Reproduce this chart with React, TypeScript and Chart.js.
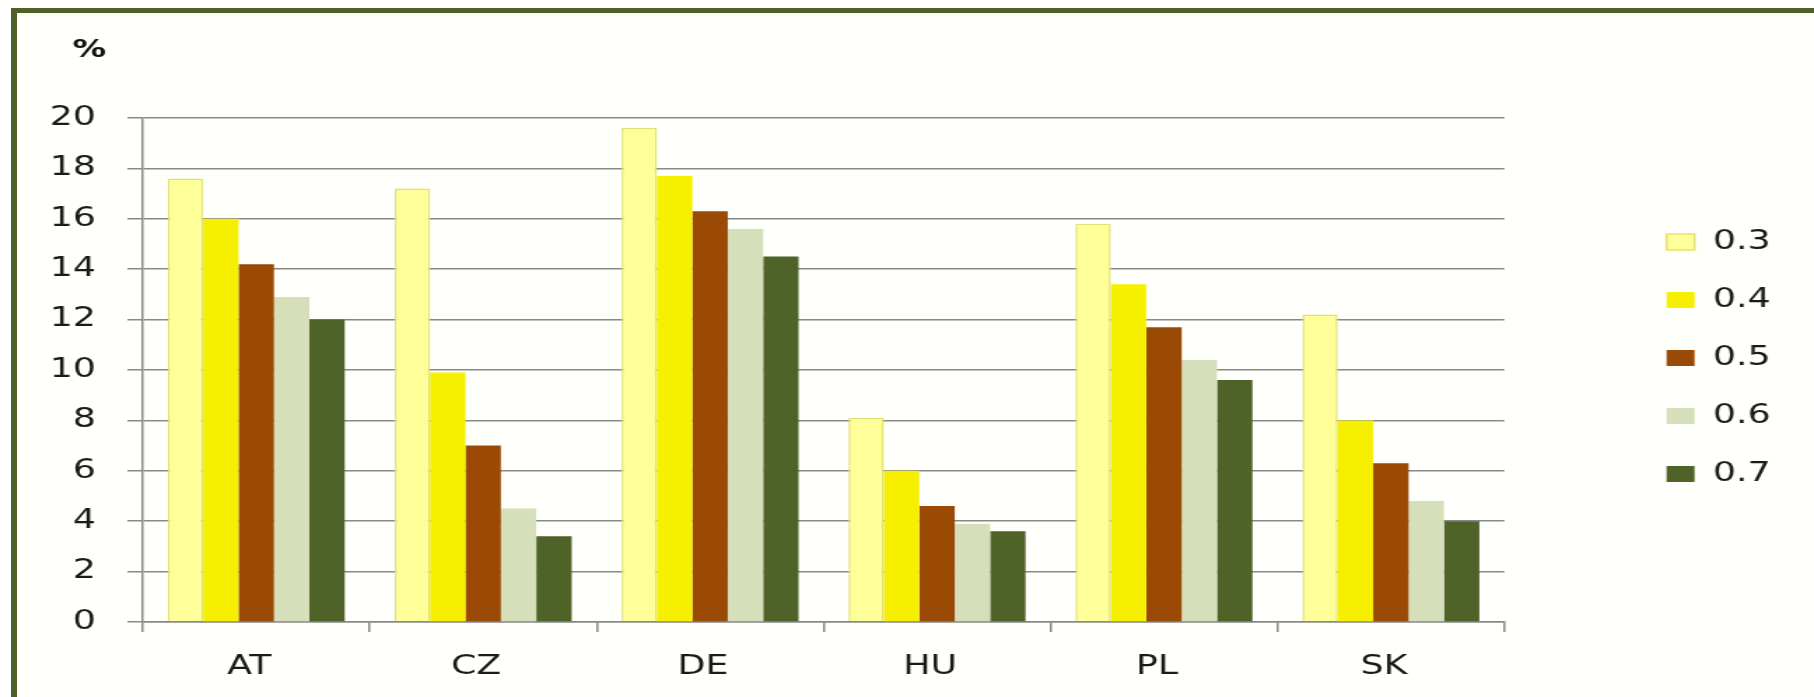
import React, { useEffect, useRef } from "react";
import { Chart, registerables } from "chart.js";

Chart.register(...registerables);

const categories = ["AT", "CZ", "DE", "HU", "PL", "SK"];
const seriesLabels = ["0.3", "0.4", "0.5", "0.6", "0.7"];
const s03 = [17.6, 17.2, 19.6, 8.1, 15.8, 12.2];
const s04 = [16.0, 9.9, 17.7, 6.0, 13.4, 8.0];
const s05 = [14.2, 7.0, 16.3, 4.6, 11.7, 6.3];
const s06 = [12.9, 4.5, 15.6, 3.9, 10.4, 4.8];
const s07 = [12.0, 3.4, 14.5, 3.6, 9.6, 4.0];
const yTicks = [0, 2, 4, 6, 8, 10, 12, 14, 16, 18, 20];

const fills = ["#FFFF99", "#F6F000", "#9B4A05", "#D5E0BA", "#4F6328"];
const borders = ["#E2E272", "#F6F000", "#9B4A05", "#D5E0BA", "#4F6328"];

const FONT = "'DejaVu Sans', Verdana, sans-serif";
const W = 1296;
const H = 697;
const S = 1814 / W;

export default function App() {
  const ref = useRef<HTMLCanvasElement | null>(null);

  useEffect(() => {
    if (!ref.current) return;
    const values = [s03, s04, s05, s06, s07];
    const chart = new Chart(ref.current, {
      type: "bar",
      data: {
        labels: categories,
        datasets: values.map((v, i) => ({
          label: seriesLabels[i],
          data: v,
          backgroundColor: fills[i],
          borderColor: borders[i],
          borderWidth: i === 0 ? 1.5 : 0,
          barPercentage: 1,
          categoryPercentage: 0.78,
        })),
      },
      options: {
        animation: false,
        responsive: false,
        layout: { padding: { top: 23, bottom: 4, left: 35, right: 21 } },
        plugins: {
          tooltip: { enabled: false },
          title: {
            display: true,
            text: "\u00a0\u00a0%",
            align: "start",
            color: "#111",
            font: { family: FONT, size: 24, weight: "bold" },
            padding: { top: 13.6, bottom: 52.6 },
          },
          legend: {
            position: "right",
            align: "center",
            labels: {
              boxWidth: 20,
              boxHeight: 16,
              padding: 32,
              color: "#1a1a1a",
              font: { family: FONT, size: 26 },
            },
          },
        },
        scales: {
          x: {
            grid: {
              drawOnChartArea: false,
              drawTicks: true,
              tickLength: 10,
              color: "#888",
              lineWidth: 1.5,
              offset: true,
            },
            border: { display: true, color: "#888", width: 1.5 },
            ticks: {
              padding: 20,
              labelOffset: -5,
              color: "#1a1a1a",
              font: { family: FONT, size: 26 },
            },
            afterFit: (scale: any) => {
              scale.height = 71;
            },
          },
          y: {
            min: 0,
            max: 20,
            afterBuildTicks: (scale: any) => {
              scale.ticks = yTicks.map((v) => ({ value: v }));
            },
            ticks: { padding: 22.5, color: "#1a1a1a", font: { family: FONT, size: 26 } },
            grid: { color: "#888", lineWidth: 1.5, tickLength: 11 },
            border: { color: "#888", width: 1.5 },
            afterFit: (scale: any) => {
              scale.width = 67;
            },
          },
          yR: {
            type: "linear",
            position: "right",
            display: true,
            grid: { display: false },
            ticks: { display: false },
            border: { display: false },
            afterFit: (scale: any) => {
              scale.width = 83.9;
            },
          },
        },
      },
    } as any);
    return () => chart.destroy();
  }, []);

  return (
    <div style={{ position: "fixed", inset: 0, overflow: "hidden", background: "#fff" }}>
      <div
        style={{
          position: "absolute",
          left: 11,
          top: 8,
          right: 0,
          bottom: 0,
          borderTop: "5px solid #4E6126",
          borderLeft: "6px solid #4E6126",
          background: "#fffffc",
        }}
      />
      <div
        style={{
          position: "absolute",
          left: 0,
          top: 0,
          width: W,
          height: H,
          transform: `scaleX(${S})`,
          transformOrigin: "0 0",
        }}
      >
        <canvas ref={ref} width={W} height={H} />
      </div>
    </div>
  );
}
